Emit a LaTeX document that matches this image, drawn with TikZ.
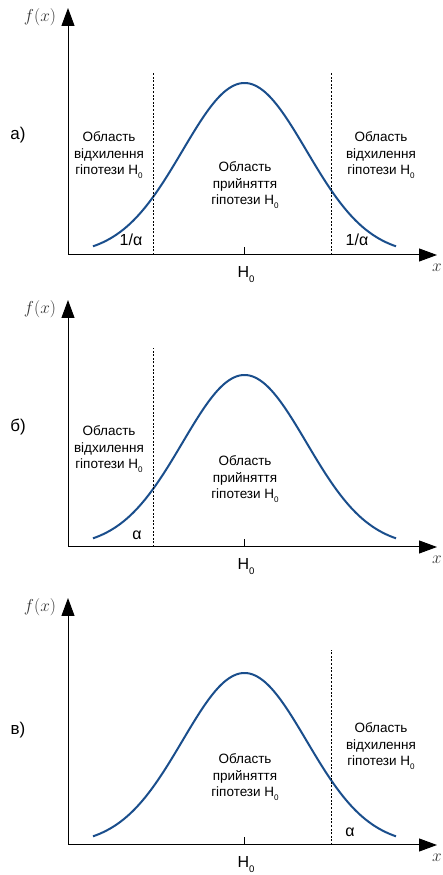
\documentclass[tikz,border=0pt]{standalone}
\usepackage[no-math]{fontspec}
\setmainfont{Liberation Sans}
\usetikzlibrary{arrows.meta}
\definecolor{curveblue}{HTML}{1A4E8C}
\newcommand{\Hnull}{H\raisebox{-0.5ex}{\scalebox{0.6}{0}}}

\begin{document}
\begin{tikzpicture}[x=1pt,y=1pt,every node/.style={inner sep=0pt},
    axis/.style={line width=1pt,-{Triangle[length=18pt,width=13pt]}},
    bound/.style={line width=0.8pt,dash pattern=on 2pt off 1.6pt},
    bell/.style={curveblue,line width=2pt},
    region/.style={align=center,font=\fontsize{13.5}{16.7}\selectfont},
    tail/.style={font=\fontsize{16}{18}\selectfont}]
  \useasboundingbox (0,0) rectangle (443,875);
  % trois panneaux : axes, courbe, H0
  \foreach \oy/\lbl/\ly/\k in {620/а)/120/a,328/б)/120/b,30/в)/115/c} {
    \begin{scope}[yshift=\oy pt]
      \coordinate (o-\k) at (68,0);
      \coordinate (xend-\k) at (437,0);
      \coordinate (yend-\k) at (68,247);
      \draw[axis] (o-\k) -- (xend-\k);
      \draw[axis] (o-\k) -- (yend-\k);
      \node[font=\fontsize{17}{17}\selectfont,text=black!80] (fx-\k) at (40,238) {$f(x)$};
      \node[font=\fontsize{17}{17}\selectfont,text=black!80] (xl-\k) at (437,-13) {$x$};
      \draw[line width=0.9pt] (244,0) -- (244,8);
      \node[anchor=base,font=\fontsize{16}{16}\selectfont] (h0-\k) at (246,-23) {\Hnull};
      \node[font=\fontsize{17}{17}\selectfont] (lbl-\k) at (18,\ly) {\lbl};
      \draw[bell] plot[domain=93:396,samples=90,smooth] (\x,{172*exp(-0.5*((\x-244.5)/62)^2)});
    \end{scope}
  }
  % a) deux queues
  \begin{scope}[yshift=620pt]
    \draw[bound] (153,0) -- (153,183);
    \draw[bound] (331,0) -- (331,183);
    \node[region] (rejl-a) at (109,100) {Область\\відхилення\\гіпотези \Hnull};
    \node[region] (acc-a) at (245,70) {Область\\прийняття\\гіпотези \Hnull};
    \node[region] (rejr-a) at (381,100) {Область\\відхилення\\гіпотези \Hnull};
    \node[tail] (tl-a) at (131,15) {1/α};
    \node[tail] (tr-a) at (357,15) {1/α};
  \end{scope}
  % б) queue gauche
  \begin{scope}[yshift=328pt]
    \draw[bound] (153,0) -- (153,199);
    \node[region] (rejl-b) at (109,98) {Область\\відхилення\\гіпотези \Hnull};
    \node[region] (acc-b) at (245,68) {Область\\прийняття\\гіпотези \Hnull};
    \node[tail] (tl-b) at (137,12) {α};
  \end{scope}
  % в) queue droite
  \begin{scope}[yshift=30pt]
    \draw[bound] (331,0) -- (331,195);
    \node[region] (rejr-c) at (381,99) {Область\\відхилення\\гіпотези \Hnull};
    \node[region] (acc-c) at (245,68) {Область\\прийняття\\гіпотези \Hnull};
    \node[tail] (tr-c) at (350,13) {α};
  \end{scope}
\end{tikzpicture}
\end{document}
